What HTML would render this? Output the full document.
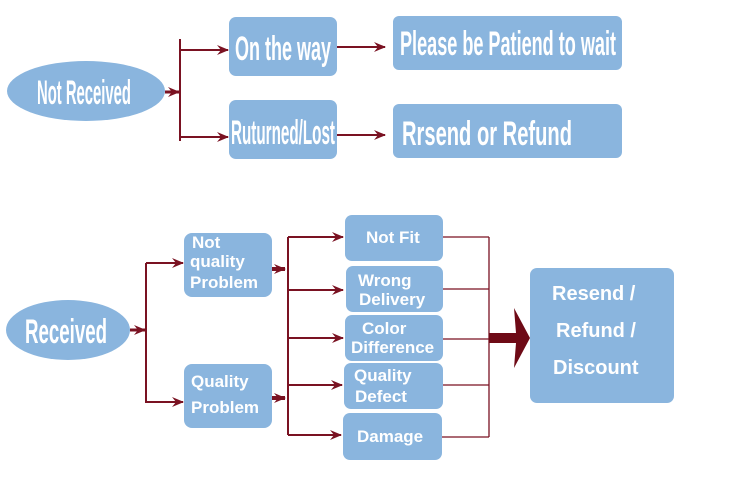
<!DOCTYPE html>
<html><head><style>
body{margin:0;background:#fff}
svg text{font-family:"Liberation Sans",sans-serif;font-weight:bold;fill:#fff}
</style></head><body>
<svg width="750" height="479" viewBox="0 0 750 479" xmlns="http://www.w3.org/2000/svg">
<defs>
<marker id="a" markerWidth="12" markerHeight="10" refX="11" refY="5" orient="auto" markerUnits="userSpaceOnUse">
<path d="M0,0 L12,5 L0,10 L4,5 Z" fill="#7a1222"/></marker>
</defs>
<g fill="#8ab5de">
<ellipse cx="86" cy="91" rx="79" ry="30"/>
<rect x="229" y="17" width="108" height="59" rx="7"/>
<rect x="229" y="100" width="108" height="59" rx="7"/>
<rect x="393" y="16" width="229" height="54" rx="6"/>
<rect x="393" y="104" width="229" height="54" rx="6"/>
<ellipse cx="68" cy="330" rx="62" ry="30"/>
<rect x="184" y="233" width="88" height="64" rx="8"/>
<rect x="184" y="364" width="88" height="64" rx="8"/>
<rect x="345" y="215" width="98" height="46" rx="7"/>
<rect x="346" y="266" width="97" height="46" rx="7"/>
<rect x="345" y="315" width="98" height="46" rx="7"/>
<rect x="344" y="363" width="99" height="46" rx="7"/>
<rect x="343" y="413" width="99" height="47" rx="7"/>
<rect x="530" y="268" width="144" height="135" rx="7"/>
</g>
<g stroke="#7a1222" stroke-width="2" fill="none">
<line x1="165" y1="92" x2="179" y2="92" stroke-width="3" marker-end="url(#a)"/>
<line x1="180" y1="39" x2="180" y2="141"/>
<line x1="180" y1="50" x2="228" y2="50" marker-end="url(#a)"/>
<line x1="180" y1="137" x2="228" y2="137" marker-end="url(#a)"/>
<line x1="337" y1="47" x2="385" y2="47" marker-end="url(#a)"/>
<line x1="337" y1="135" x2="385" y2="135" marker-end="url(#a)"/>
<line x1="130" y1="330" x2="145" y2="330" stroke-width="3" marker-end="url(#a)"/>
<line x1="146" y1="263" x2="146" y2="403"/>
<line x1="146" y1="263" x2="183" y2="263" marker-end="url(#a)"/>
<line x1="146" y1="402" x2="183" y2="402" marker-end="url(#a)"/>
<line x1="272" y1="269" x2="285" y2="269" stroke-width="4" marker-end="url(#a)"/>
<line x1="272" y1="398" x2="285" y2="398" stroke-width="4" marker-end="url(#a)"/>
<line x1="288" y1="237" x2="288" y2="435"/>
<line x1="288" y1="237" x2="343" y2="237" marker-end="url(#a)"/>
<line x1="288" y1="290" x2="343" y2="290" marker-end="url(#a)"/>
<line x1="288" y1="338" x2="343" y2="338" marker-end="url(#a)"/>
<line x1="288" y1="385" x2="342" y2="385" marker-end="url(#a)"/>
<line x1="288" y1="435" x2="341" y2="435" marker-end="url(#a)"/>
<g stroke-width="1.3">
<line x1="443" y1="237" x2="489" y2="237"/>
<line x1="443" y1="289" x2="489" y2="289"/>
<line x1="443" y1="339" x2="489" y2="339"/>
<line x1="443" y1="385" x2="489" y2="385"/>
<line x1="442" y1="437" x2="489" y2="437"/>
<line x1="489" y1="237" x2="489" y2="437"/>
</g>
</g>
<path d="M489,333 L516,333 L514,308 L530,338 L514,368 L516,343 L489,343 Z" fill="#6e0a16"/>
<g font-size="34">
<text x="84" y="104" text-anchor="middle" textLength="94" lengthAdjust="spacingAndGlyphs">Not Received</text>
<text x="283" y="60" text-anchor="middle" textLength="96" lengthAdjust="spacingAndGlyphs">On the way</text>
<text x="283" y="144" text-anchor="middle" textLength="104" lengthAdjust="spacingAndGlyphs">Ruturned/Lost</text>
<text x="400" y="55" textLength="216" lengthAdjust="spacingAndGlyphs">Please be Patiend to wait</text>
<text x="402" y="145" textLength="170" lengthAdjust="spacingAndGlyphs">Rrsend or Refund</text>
<text x="66" y="343" text-anchor="middle" textLength="82" lengthAdjust="spacingAndGlyphs">Received</text>
</g>
<g font-size="17">
<text x="192" y="248">Not</text>
<text x="190" y="267">quality</text>
<text x="190" y="288">Problem</text>
<text x="191" y="387">Quality</text>
<text x="191" y="413">Problem</text>
<text x="366" y="243">Not Fit</text>
<text x="358" y="286">Wrong</text>
<text x="359" y="305">Delivery</text>
<text x="362" y="334">Color</text>
<text x="351" y="353">Difference</text>
<text x="354" y="381">Quality</text>
<text x="355" y="402">Defect</text>
<text x="357" y="442">Damage</text>
</g>
<g font-size="20">
<text x="552" y="300">Resend /</text>
<text x="556" y="337">Refund /</text>
<text x="553" y="374">Discount</text>
</g>
</svg>
</body></html>
